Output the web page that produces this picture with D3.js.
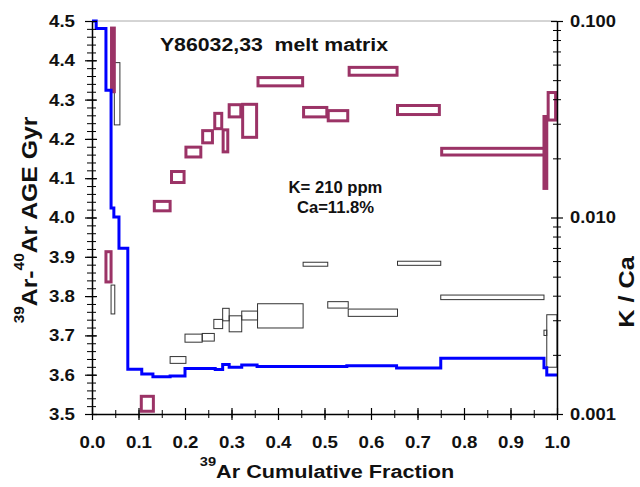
<!DOCTYPE html>
<html>
<head>
<meta charset="utf-8">
<script src="https://cdn.jsdelivr.net/npm/d3@7"></script>
<style>
  body { margin: 0; background: #fff; }
  svg { display: block; font-family: "Liberation Sans", Arial, sans-serif; font-weight: bold; }
</style>
</head>
<body>
<svg id="chart"></svg>
<script>
// age spectrum steps: [fraction start, fraction end, age low, age high] (Gyr)
const ageSteps = [
  [0.042, 0.048, 4.320, 4.482],
  [0.030, 0.041, 3.836, 3.913],
  [0.106, 0.132, 3.507, 3.545],
  [0.134, 0.168, 4.017, 4.041],
  [0.171, 0.198, 4.089, 4.117],
  [0.202, 0.234, 4.154, 4.179],
  [0.238, 0.259, 4.190, 4.221],
  [0.264, 0.279, 4.226, 4.265],
  [0.282, 0.292, 4.167, 4.223],
  [0.295, 0.320, 4.256, 4.287],
  [0.324, 0.354, 4.204, 4.288],
  [0.357, 0.453, 4.335, 4.356],
  [0.455, 0.505, 4.256, 4.280],
  [0.508, 0.550, 4.246, 4.272],
  [0.553, 0.656, 4.362, 4.382],
  [0.657, 0.747, 4.262, 4.285],
  [0.752, 0.975, 4.159, 4.176],
  [0.972, 0.978, 4.074, 4.257],
  [0.981, 0.997, 4.248, 4.318]
];

// K/Ca steps: [fraction start, fraction end, K/Ca low, K/Ca high]
const kcaSteps = [
  [0.048, 0.060, 0.0296, 0.0614],
  [0.041, 0.049, 0.00323, 0.00453],
  [0.168, 0.202, 0.00181, 0.00196],
  [0.200, 0.237, 0.00232, 0.00255],
  [0.237, 0.263, 0.00235, 0.00257],
  [0.262, 0.281, 0.00272, 0.00303],
  [0.281, 0.295, 0.00298, 0.00345],
  [0.295, 0.322, 0.00262, 0.00316],
  [0.322, 0.356, 0.00301, 0.00334],
  [0.356, 0.454, 0.00274, 0.00364],
  [0.454, 0.507, 0.00565, 0.00592],
  [0.507, 0.551, 0.00346, 0.00373],
  [0.551, 0.657, 0.00314, 0.00342],
  [0.657, 0.750, 0.00571, 0.00599],
  [0.750, 0.972, 0.00382, 0.00403],
  [0.972, 0.978, 0.00251, 0.00267],
  [0.978, 1.000, 0.00173, 0.00320]
];

// blue step line (left age scale)
const lineEdges = [0, 0.009, 0.030, 0.041, 0.047, 0.058, 0.077, 0.107, 0.131, 0.168, 0.200,
  0.265, 0.281, 0.295, 0.322, 0.355, 0.548, 0.655, 0.750, 0.972, 0.978, 1.0];
const lineAges = [4.50, 4.481, 4.324, 4.024, 4.001, 3.922, 3.614, 3.602, 3.595, 3.597, 3.616,
  3.613, 3.626, 3.619, 3.625, 3.621, 3.623, 3.617, 3.642, 3.618, 3.599];

const ageTicks = [3.5, 3.6, 3.7, 3.8, 3.9, 4.0, 4.1, 4.2, 4.3, 4.4, 4.5];
const fracTicks = [0, 0.1, 0.2, 0.3, 0.4, 0.5, 0.6, 0.7, 0.8, 0.9, 1.0];
const kcaTicks = [0.001, 0.01, 0.1];

const title = "Y86032,33\u00a0 melt matrix";
const noteLines = ["K= 210 ppm", "Ca=11.8%"];

const width = 640, height = 487;
const marginTop = 21, marginRight = 83, marginBottom = 73, marginLeft = 92;
const magenta = "#9b3366";

const svg = d3.select("#chart")
    .attr("width", width)
    .attr("height", height)
    .attr("viewBox", [0, 0, width, height]);

const x = d3.scaleLinear([0, 1], [marginLeft, width - marginRight]);
const yAge = d3.scaleLinear([3.5, 4.5], [height - marginBottom, marginTop]);
const yKca = d3.scaleLog([0.001, 0.1], [height - marginBottom, marginTop]);

const ageMinor = d3.range(3.5, 4.5001, 0.02).map(v => +v.toFixed(2));
const fracMinor = d3.range(0, 1.0001, 0.05).map(v => +v.toFixed(2));
const kcaMinor = [0.001, 0.01].flatMap(d => d3.range(2, 10).map(k => k * d));

// top frame line
svg.append("line")
    .attr("x1", x(0)).attr("x2", x(1))
    .attr("y1", marginTop).attr("y2", marginTop)
    .attr("stroke", "#aaa");

// K/Ca boxes
svg.append("g")
    .attr("fill", "none")
    .attr("stroke", "#333")
    .attr("stroke-width", 1)
  .selectAll("rect")
  .data(kcaSteps)
  .join("rect")
    .attr("x", d => x(d[0]))
    .attr("y", d => yKca(d[3]))
    .attr("width", d => x(d[1]) - x(d[0]))
    .attr("height", d => yKca(d[2]) - yKca(d[3]));

// age boxes
svg.append("g")
    .attr("fill", "none")
    .attr("stroke", magenta)
    .attr("stroke-width", 3)
  .selectAll("rect")
  .data(ageSteps)
  .join("rect")
    .attr("x", d => x(d[0]))
    .attr("y", d => yAge(d[3]))
    .attr("width", d => x(d[1]) - x(d[0]))
    .attr("height", d => yAge(d[2]) - yAge(d[3]));

// blue step line
const linePts = lineEdges.map((e, i) => [e, lineAges[Math.min(i, lineAges.length - 1)]]);
svg.append("path")
    .datum(linePts)
    .attr("fill", "none")
    .attr("stroke", "#0000ff")
    .attr("stroke-width", 3)
    .attr("d", d3.line(d => x(d[0]), d => yAge(d[1])).curve(d3.curveStepAfter));

const tickFont = g => g
    .attr("font-family", null)
    .attr("font-size", null)
    .call(g => g.selectAll("text").attr("font-size", 17).attr("fill", "#111"));

// left axis
svg.append("g")
    .attr("transform", `translate(${marginLeft},0)`)
    .call(d3.axisLeft(yAge).tickValues(ageMinor).tickFormat("").tickSize(5).tickSizeOuter(0))
    .call(g => g.select(".domain").remove())
    .call(g => g.selectAll(".tick line").attr("x1", 4).attr("stroke", "#000"));
svg.append("g")
    .attr("transform", `translate(${marginLeft},0)`)
    .call(d3.axisLeft(yAge).tickValues(ageTicks).tickFormat(d3.format(".1f")).tickSize(7).tickSizeOuter(0))
    .call(tickFont)
    .call(g => g.select(".domain").attr("stroke-width", 1.5))
    .call(g => g.selectAll(".tick line").attr("x1", 5).attr("stroke-width", 1.2))
    .call(g => g.selectAll("text").attr("x", -17 / 1.1).attr("transform", "scale(1.1,1)"));

// bottom axis
svg.append("g")
    .attr("transform", `translate(0,${height - marginBottom})`)
    .call(d3.axisBottom(x).tickValues(fracMinor).tickFormat("").tickSize(4).tickSizeOuter(0))
    .call(g => g.select(".domain").remove())
    .call(g => g.selectAll(".tick line").attr("y1", -4));
svg.append("g")
    .attr("transform", `translate(0,${height - marginBottom})`)
    .call(d3.axisBottom(x).tickValues(fracTicks).tickFormat(d3.format(".1f")).tickSize(6).tickSizeOuter(0))
    .call(tickFont)
    .call(g => g.select(".domain").attr("stroke-width", 1.5))
    .call(g => g.selectAll(".tick line").attr("y1", -6).attr("stroke-width", 1.2))
    .call(g => g.selectAll("text").attr("y", 34).attr("dy", null).attr("transform", "scale(1.1,1)"));

// right axis
svg.append("g")
    .attr("transform", `translate(${width - marginRight},0)`)
    .call(d3.axisRight(yKca).tickValues(kcaMinor).tickFormat("").tickSize(4).tickSizeOuter(0))
    .call(g => g.select(".domain").remove())
    .call(g => g.selectAll(".tick line").attr("x1", -4));
svg.append("g")
    .attr("transform", `translate(${width - marginRight},0)`)
    .call(d3.axisRight(yKca).tickValues(kcaTicks).tickFormat(d3.format(".3f")).tickSize(6).tickSizeOuter(0))
    .call(tickFont)
    .call(g => g.select(".domain").attr("stroke-width", 1.5))
    .call(g => g.selectAll(".tick line").attr("x1", -6).attr("stroke-width", 1.2))
    .call(g => g.selectAll("text").attr("x", 13 / 1.08).attr("transform", "scale(1.08,1)"));

// stretched text helper
function label(px, py, size, sx, rot = 0) {
  return svg.append("text")
      .attr("transform", `translate(${px},${py}) rotate(${rot}) scale(${sx},1)`)
      .attr("text-anchor", "middle")
      .attr("font-size", size)
      .attr("fill", "#111");
}

label(274, 51, 19, 1.12).text(title);
noteLines.forEach((t, i) => label(335.5, 193 + i * 20, 16, 1.04).text(t));

const xl = label(327, 478, 18.5, 1.17);
xl.append("tspan").attr("font-size", 12.5).attr("dy", -12).text("39");
xl.append("tspan").attr("dy", 12).text("Ar Cumulative Fraction");

const yl = label(37, 220, 22.5, 1.1, -90);
yl.append("tspan").attr("font-size", 14).attr("dy", -13).text("39");
yl.append("tspan").attr("dy", 13).text("Ar-");
yl.append("tspan").attr("font-size", 14).attr("dy", -13).text("40");
yl.append("tspan").attr("dy", 13).text("Ar AGE Gyr");

label(634, 292, 22, 1.15, -90).text("K / Ca");
</script>
</body>
</html>
